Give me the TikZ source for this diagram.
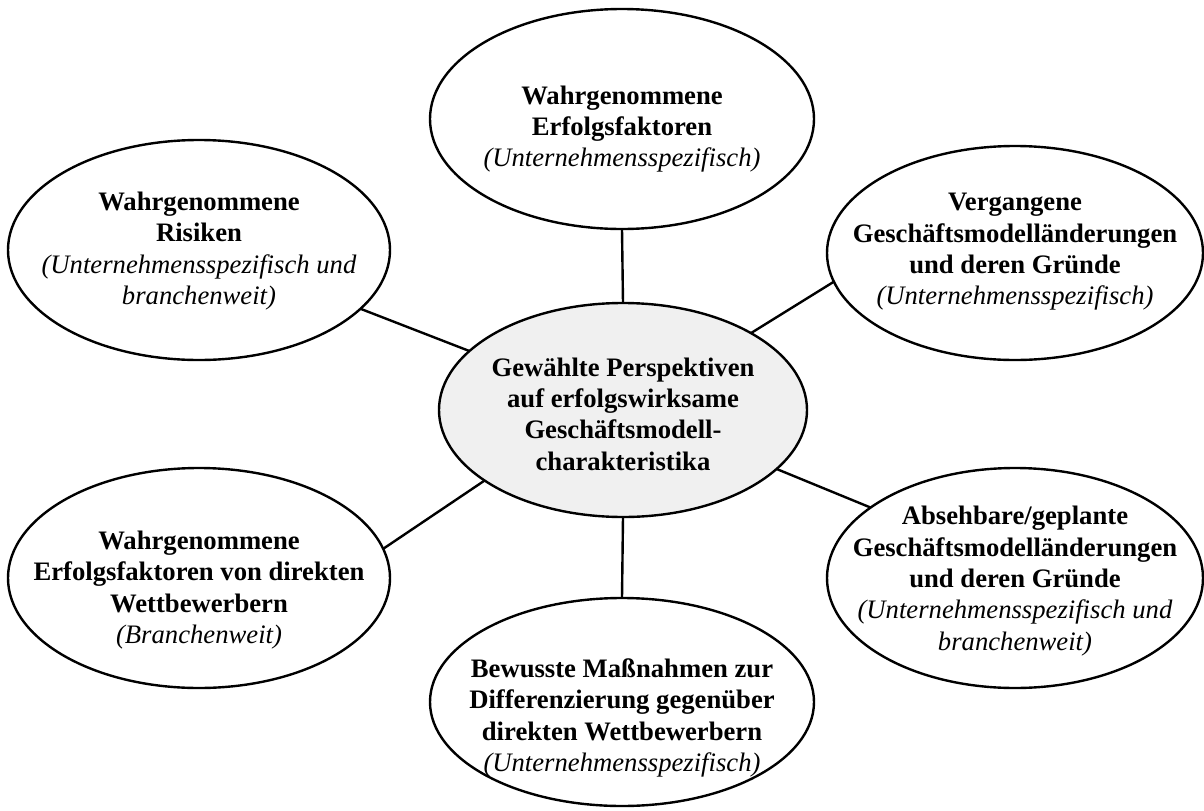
\documentclass[tikz,border=0pt]{standalone}
\usepackage{fontspec}
\setmainfont{Liberation Serif}
\usetikzlibrary{shapes.geometric}
\definecolor{centerfill}{HTML}{F0F0F0}
\tikzset{
  bubble/.style={ellipse, draw=black, line width=1.8pt, fill=white, inner sep=0pt, outer sep=0pt},
  txt/.style={align=center, inner sep=0pt, font=\fontsize{20}{23.5}\selectfont},
  link/.style={draw=black, line width=1.8pt},
}
\newcommand{\hd}[1]{\textbf{#1}}
\newcommand{\sub}[1]{\textit{#1}}
\begin{document}
\begin{tikzpicture}[x=0.75pt,y=-0.75pt]
\useasboundingbox (0,0) rectangle (1204,811);
% ellipses (pixel coordinates)
\node[bubble, minimum width=288pt, minimum height=165pt] (top) at (622,119) {};
\node[bubble, minimum width=286.5pt, minimum height=165pt] (ul) at (199,250) {};
\node[bubble, minimum width=282pt, minimum height=160.5pt] (ur) at (1015,253) {};
\node[bubble, fill=centerfill, minimum width=276pt, minimum height=160.5pt] (c) at (623,410) {};
\node[bubble, minimum width=286.5pt, minimum height=165pt] (ll) at (199,578) {};
\node[bubble, minimum width=282pt, minimum height=165pt] (lr) at (1015,578) {};
\node[bubble, minimum width=288pt, minimum height=156pt] (bot) at (622,702) {};
% texts
\node[txt] (topt) at (622,129)
  {\hd{Wahrgenommene}\\\hd{Erfolgsfaktoren}\\\sub{(Unternehmensspezifisch)}};
\node[txt] (ult) at (199,251)
  {\hd{Wahrgenommene}\\\hd{Risiken}\\\sub{(Unternehmensspezifisch und}\\\sub{branchenweit)}};
\node[txt] (urt) at (1015,252)
  {\hd{Vergangene}\\\hd{Geschäftsmodelländerungen}\\\hd{und deren Gründe}\\\sub{(Unternehmensspezifisch)}};
\node[txt] (ct) at (623,414)
  {\hd{Gewählte Perspektiven}\\\hd{auf erfolgswirksame}\\\hd{Geschäftsmodell-}\\\hd{charakteristika}};
\node[txt] (llt) at (199,590)
  {\hd{Wahrgenommene}\\\hd{Erfolgsfaktoren von direkten}\\\hd{Wettbewerbern}\\\sub{(Branchenweit)}};
\node[txt] (lrt) at (1015,581)
  {\hd{Absehbare/geplante}\\\hd{Geschäftsmodelländerungen}\\\hd{und deren Gründe}\\\sub{(Unternehmensspezifisch und}\\\sub{branchenweit)}};
\node[txt] (bott) at (622,718)
  {\hd{Bewusste Maßnahmen zur}\\\hd{Differenzierung gegenüber}\\\hd{direkten Wettbewerbern}\\\sub{(Unternehmensspezifisch)}};
% connectors
\draw[link] (top.south) -- (c.north);
\draw[link] (c.south) -- (bot.north);
\draw[link] (ul.-20) -- (c.159);
\draw[link] (ur.189) -- (c.31.6);
\draw[link] (ll.9.6) -- (c.207.6);
\draw[link] (lr.154.4) -- (c.-21);
\end{tikzpicture}
\end{document}
